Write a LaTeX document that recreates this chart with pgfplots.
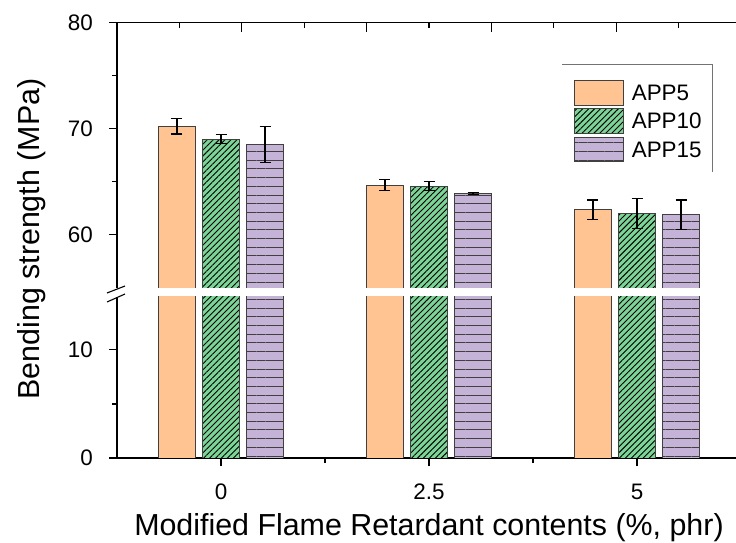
\documentclass[border=0pt]{standalone}
\usepackage{fontspec}
\setmainfont{Liberation Sans}
\usepackage{pgfplots}
\pgfplotsset{compat=1.18}
\usetikzlibrary{patterns.meta}

\definecolor{appfive}{RGB}{255,196,145}
\definecolor{appten}{RGB}{124,212,150}
\definecolor{appfifteen}{RGB}{196,178,215}

\pgfplotsset{
  bendbase/.style={
    scale only axis, width=624bp,
    xmin=-1.25, xmax=6.25,
    ybar=7.2bp, bar width=0.444,
    axis line style={line width=1.3bp, -},
    tick style={line width=1.1bp, black},
    tick align=outside,
    major tick length=8bp, minor tick length=5bp,
    ticklabel style={font=\fontsize{22.5}{27}\selectfont},
    /pgf/number format/assume math mode=true,
    yticklabel style={anchor=east, inner sep=0pt, xshift=-16bp},
    axis y line*=left,
  },
  barfive/.style={fill=appfive, draw=black!75, line width=0.8bp},
  barten/.style={fill=appten, draw=black!75, line width=0.8bp,
    postaction={pattern={Lines[angle=45,distance=4.2bp,line width=0.9bp]},pattern color=black}},
  barfifteen/.style={fill=appfifteen, draw=black!75, line width=0.8bp,
    postaction={pattern={Lines[angle=0,distance=8.7bp,line width=0.8bp]},pattern color=black!75}},
  errs/.style={error bars/.cd, y dir=both, y explicit,
    error bar style={line width=1.3bp, black, solid},
    error mark options={rotate=90, mark size=5.5bp, line width=1.3bp, black}},
}

\begin{document}
\begin{tikzpicture}

% lower part of the broken axis
\begin{axis}[bendbase,
  at={(117bp,85bp)}, anchor=south west, height=161bp,
  ymin=0, ymax=14.9,
  axis x line*=bottom,
  xtick={0,2.5,5}, minor xtick={1.25,3.75},
  xticklabels={0,2.5,5},
  xticklabel style={anchor=base, yshift=-33bp},
  ytick={0,10}, minor ytick={5},
  xlabel={Modified Flame Retardant contents (\%, phr)},
  xlabel style={font=\fontsize{30.5}{36}\selectfont,
    at={(axis description cs:0.5,0)}, anchor=base, yshift=-77bp},
]
\addplot[barfive] coordinates {(0,70.22) (2.5,64.70) (5,62.38)};
\addplot[barten] coordinates {(0,69.03) (2.5,64.61) (5,62.03)};
\addplot[barfifteen] coordinates {(0,68.52) (2.5,63.89) (5,61.91)};
\end{axis}

% upper part of the broken axis
\begin{axis}[bendbase,
  at={(117bp,255bp)}, anchor=south west, height=265.3bp,
  ymin=55, ymax=80,
  axis x line*=top, xtick=\empty,
  ytick={60,70,80}, minor ytick={65,75},
  legend image code/.code={\draw[#1] (0bp,-4.25bp) rectangle (49bp,20.25bp);},
  legend style={at={(axis description cs:0.7324,0.784)}, anchor=north west,
    draw=none, fill=none, inner sep=0pt, outer sep=0pt,
    row sep=3bp, column sep=8bp,
    font=\fontsize{22.5}{27}\selectfont,
    nodes={inner sep=0pt, anchor=base west}},
  legend cell align=left,
]
\addplot[barfive, errs] coordinates {
(0,70.22) +- (0,0.72)
(2.5,64.70) +- (0,0.52)
(5,62.38) +- (0,0.90)
};
\addplot[barten, errs] coordinates {
(0,69.03) +- (0,0.43)
(2.5,64.61) +- (0,0.40)
(5,62.03) +- (0,1.41)
};
\addplot[barfifteen, errs] coordinates {
(0,68.52) +- (0,1.67)
(2.5,63.89) +- (0,0.08)
(5,61.91) +- (0,1.38)
};
\legend{APP5, APP10, APP15}
\draw[black!55, line width=0.9bp]
  (axis description cs:0.7131,0.8421) -- (axis description cs:0.9535,0.8421)
  -- (axis description cs:0.9535,0.4361);
\end{axis}

% top ticks of the upper frame
\begin{axis}[
  scale only axis, width=624bp, height=265.3bp,
  at={(117bp,255bp)}, anchor=south west,
  xmin=0, xmax=10, ymin=0, ymax=1,
  hide y axis,
  axis x line*=top,
  axis line style={line width=1.3bp, -},
  tick style={line width=1.1bp, black},
  tick align=inside,
  major tick length=9bp, minor tick length=5bp,
  xtick={2,4,6,8}, minor xtick={1,3,5,7,9},
  xticklabels={},
]
\end{axis}

% break marks on the left axis
\draw[line width=1.1bp] (107bp,250bp) -- (125bp,257bp);
\draw[line width=1.1bp] (107bp,241bp) -- (125bp,249bp);

\node[rotate=90, font=\fontsize{30.5}{36}\selectfont] at (32bp,304bp) {Bending strength (MPa)};

\pgfresetboundingbox
\useasboundingbox (0bp,0bp) rectangle (736bp,543bp);
\end{tikzpicture}
\end{document}
